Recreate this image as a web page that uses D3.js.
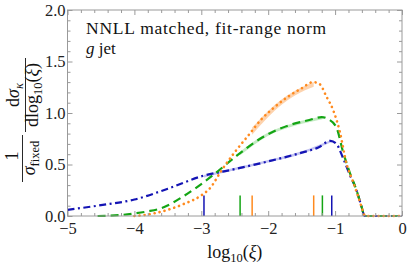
<!DOCTYPE html>
<html><head><meta charset="utf-8">
<script src="https://cdn.jsdelivr.net/npm/d3@7"></script>
</head>
<body style="margin:0"><svg id="c" width="407" height="264" style="display:block"></svg>
<script>
// ---- data ----
const xTicks = [-5, -4, -3, -2, -1, 0];
const xTickLabels = ["\u22125", "\u22124", "\u22123", "\u22122", "\u22121", "0"];
const yTicks = [0, 0.5, 1.0, 1.5, 2.0];
const yTickLabels = ["0.0", "0.5", "1.0", "1.5", "2.0"];

const blueX = [-5, -4.5, -4, -3.5, -3, -2.5, -2, -1.5, -1.25, -1.07, -0.98, -0.88, -0.78, -0.68, -0.6, -0.56, -0.3, 0];
const blueY = [0.06, 0.105, 0.16, 0.265, 0.385, 0.455, 0.53, 0.615, 0.665, 0.73, 0.70, 0.56, 0.40, 0.25, 0.08, 0.0, 0.0, 0.0];

const greenX = [-4.55, -4.2, -4.0, -3.8, -3.6, -3.27, -3.0, -2.8, -2.47, -2.07, -1.67, -1.4, -1.2, -1.1, -0.98, -0.88, -0.78, -0.68, -0.6, -0.56, -0.3, 0];
const greenY = [0.0, 0.01, 0.025, 0.045, 0.075, 0.19, 0.31, 0.41, 0.585, 0.77, 0.885, 0.93, 0.96, 0.94, 0.86, 0.62, 0.42, 0.25, 0.08, 0.0, 0.0, 0.0];

const orangeX = [-4.0, -3.75, -3.5, -3.25, -3.0, -2.87, -2.7, -2.5, -2.3, -2.1, -1.9, -1.7, -1.5, -1.33, -1.23, -1.13, -1.03, -0.93, -0.83, -0.73, -0.65, -0.59, -0.55, -0.3, 0];
const orangeY = [0.0, 0.02, 0.06, 0.12, 0.20, 0.27, 0.44, 0.62, 0.78, 0.94, 1.06, 1.16, 1.24, 1.30, 1.28, 1.16, 1.03, 0.82, 0.51, 0.33, 0.18, 0.06, 0.0, 0.0, 0.0];

const blueBandX = [-2.96, -2.5, -2.0, -1.5, -1.05];
const blueBandLo = [0.375, 0.445, 0.52, 0.603, 0.718];
const blueBandHi = [0.398, 0.468, 0.543, 0.628, 0.74];

const greenBandX = [-2.42, -2.0, -1.6, -1.19];
const greenBandLo = [0.59, 0.78, 0.877, 0.94];
const greenBandHi = [0.625, 0.81, 0.905, 0.965];

const orangeBandX = [-2.24, -2.0, -1.8, -1.6, -1.45, -1.32];
const orangeBandLo = [0.79, 0.96, 1.08, 1.17, 1.22, 1.255];
const orangeBandHi = [0.86, 1.02, 1.13, 1.215, 1.265, 1.30];

const markerX = [-2.96, -1.05, -2.42, -1.19, -2.24, -1.32];
const markerSeries = ["blue", "blue", "green", "green", "orange", "orange"];
const markerHeight = 0.2;

// ---- layout ----
const colors = {blue: "#1414b4", green: "#14a514", orange: "#ff8a1e"};
const bandColors = {blue: "#b4b4ee", green: "#b4e6b4", orange: "#fcc89a"};
const L = 67.5, R = 402, T = 10, B = 216;
const svg = d3.select("#c");
const x = d3.scaleLinear().domain([-5, 0]).range([L, R]);
const y = d3.scaleLinear().domain([0, 2]).range([B, T]);
const frameCol = "#9a9a9a";
const FONT = '"Liberation Serif"';

function txt(parent) {
  return parent.append("text").attr("font-family", "Liberation Serif").style("font-family", FONT).attr("fill", "#111");
}

// bands
function band(xs, lo, hi, key) {
  const d = xs.map((v, i) => ({x: v, lo: lo[i], hi: hi[i]}));
  svg.append("path").datum(d)
    .attr("d", d3.area().x(p => x(p.x)).y0(p => y(p.lo)).y1(p => y(p.hi)).curve(d3.curveMonotoneX))
    .attr("fill", bandColors[key]).attr("opacity", 0.8);
}
band(blueBandX, blueBandLo, blueBandHi, "blue");
band(greenBandX, greenBandLo, greenBandHi, "green");
band(orangeBandX, orangeBandLo, orangeBandHi, "orange");

// markers
svg.append("g").selectAll("line").data(markerX).join("line")
  .attr("x1", d => x(d)).attr("x2", d => x(d))
  .attr("y1", y(0)).attr("y2", y(markerHeight))
  .attr("stroke", (d, i) => colors[markerSeries[i]]).attr("stroke-width", 1.5);

// curves
svg.append("clipPath").attr("id", "pc").append("rect")
  .attr("x", L).attr("y", T).attr("width", R - L).attr("height", B - T + 2);
function curve(xs, ys, key, dash, w, cap) {
  const d = xs.map((v, i) => [v, ys[i]]);
  svg.append("path").datum(d)
    .attr("clip-path", "url(#pc)")
    .attr("d", d3.line().x(p => x(p[0])).y(p => y(p[1])).curve(d3.curveMonotoneX))
    .attr("fill", "none").attr("stroke", colors[key]).attr("stroke-width", w)
    .attr("stroke-dasharray", dash).attr("stroke-linecap", cap);
}
curve(blueX, blueY, "blue", "7,3.5,2,3.5", 2.2, "butt");
curve(greenX, greenY, "green", "8,5", 2.2, "butt");
curve(orangeX, orangeY, "orange", "0.1,5", 2.6, "round");

// frame
svg.append("rect").attr("x", L).attr("y", T).attr("width", R - L).attr("height", B - T)
  .attr("fill", "none").attr("stroke", frameCol).attr("stroke-width", 1);

// axes
const xMinor = d3.range(-5, 0.001, 0.2).filter(v => Math.abs(v - Math.round(v)) > 1e-6);
const yMinor = d3.range(0, 2.001, 0.1).filter(v => Math.abs(v * 2 - Math.round(v * 2)) > 1e-6);

function styleAxis(g) {
  g.attr("font-family", "Liberation Serif");
  g.select(".domain").remove();
  g.selectAll(".tick line").attr("stroke", frameCol);
  g.selectAll("text").attr("font-family", "Liberation Serif").style("font-family", FONT).attr("font-size", 16.5).attr("fill", "#222");
}
svg.append("g").attr("transform", `translate(0,${B})`)
  .call(d3.axisBottom(x).tickValues(xTicks).tickSize(-5).tickPadding(6).tickFormat((d, i) => xTickLabels[i]))
  .call(styleAxis);
svg.append("g").attr("transform", `translate(0,${B})`)
  .call(d3.axisBottom(x).tickValues(xMinor).tickSize(-3).tickFormat("")).call(styleAxis);
svg.append("g").attr("transform", `translate(0,${T})`)
  .call(d3.axisTop(x).tickValues(xTicks).tickSize(-5).tickFormat("")).call(styleAxis);
svg.append("g").attr("transform", `translate(0,${T})`)
  .call(d3.axisTop(x).tickValues(xMinor).tickSize(-3).tickFormat("")).call(styleAxis);

svg.append("g").attr("transform", `translate(${L},0)`)
  .call(d3.axisLeft(y).tickValues(yTicks).tickSize(-5).tickPadding(2).tickFormat((d, i) => yTickLabels[i]))
  .call(styleAxis);
svg.append("g").attr("transform", `translate(${L},0)`)
  .call(d3.axisLeft(y).tickValues(yMinor).tickSize(-3).tickFormat("")).call(styleAxis);
svg.append("g").attr("transform", `translate(${R},0)`)
  .call(d3.axisRight(y).tickValues(yTicks).tickSize(-5).tickFormat("")).call(styleAxis);
svg.append("g").attr("transform", `translate(${R},0)`)
  .call(d3.axisRight(y).tickValues(yMinor).tickSize(-3).tickFormat("")).call(styleAxis);

// annotation text
txt(svg).attr("x", 86).attr("y", 34).attr("font-size", 17.5).attr("letter-spacing", 0.75)
  .text("NNLL matched, fit-range norm");
const gj = txt(svg).attr("x", 86).attr("y", 54).attr("font-size", 17);
gj.append("tspan").attr("font-style", "italic").text("g");
gj.append("tspan").text(" jet");

// x label
const xl = txt(svg).attr("x", (L + R) / 2).attr("y", 258).attr("text-anchor", "middle").attr("font-size", 18);
xl.append("tspan").text("log");
xl.append("tspan").attr("font-size", 12.5).attr("dy", 4).text("10");
xl.append("tspan").attr("dy", -4).text("(");
xl.append("tspan").attr("font-style", "italic").text("\u03BE");
xl.append("tspan").text(")");

// y label (rotated fraction)
const yl = svg.append("g").attr("transform", "rotate(-90)");
txt(yl).attr("x", -156).attr("y", 18).attr("text-anchor", "middle").attr("font-size", 18).text("1");
yl.append("line").attr("x1", -182).attr("x2", -135).attr("y1", 22.5).attr("y2", 22.5).attr("stroke", "#111").attr("stroke-width", 0.9);
const sf = txt(yl).attr("x", -158).attr("y", 35).attr("text-anchor", "middle").attr("font-size", 18);
sf.append("tspan").attr("font-style", "italic").text("\u03C3");
sf.append("tspan").attr("font-size", 12.5).attr("dy", 3.5).text("fixed");
const num = txt(yl).attr("x", -95).attr("y", 19).attr("text-anchor", "middle").attr("font-size", 18);
num.append("tspan").text("d");
num.append("tspan").attr("font-style", "italic").text("\u03C3");
num.append("tspan").attr("font-size", 12.5).attr("font-style", "italic").attr("dy", 3.5).text("\u03BA");
yl.append("line").attr("x1", -132).attr("x2", -58).attr("y1", 25.5).attr("y2", 25.5).attr("stroke", "#111").attr("stroke-width", 0.9);
const den = txt(yl).attr("x", -95).attr("y", 38).attr("text-anchor", "middle").attr("font-size", 18);
den.append("tspan").text("dlog");
den.append("tspan").attr("font-size", 12.5).attr("dy", 3.5).text("10");
den.append("tspan").attr("dy", -3.5).text("(");
den.append("tspan").attr("font-style", "italic").text("\u03BE");
den.append("tspan").text(")");
</script>
</body></html>
